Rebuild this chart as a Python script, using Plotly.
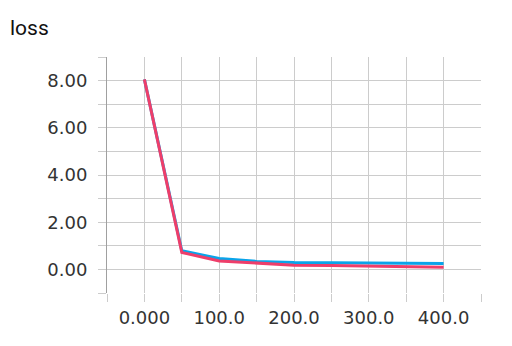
import plotly.graph_objects as go

steps = [0, 50, 100, 150, 200, 250, 300, 350, 400]
loss_blue = [8.05, 0.79, 0.46, 0.34, 0.29, 0.28, 0.26, 0.25, 0.25]
loss_red = [8.05, 0.72, 0.36, 0.26, 0.18, 0.16, 0.13, 0.10, 0.09]

x_ticks = [-50, 0, 50, 100, 150, 200, 250, 300, 350, 400, 450]
x_labels = ["", "0.000", "", "100.0", "", "200.0", "", "300.0", "", "400.0", ""]
y_ticks = [-1, 0, 1, 2, 3, 4, 5, 6, 7, 8, 9]
y_labels = ["", "0.00", "", "2.00", "", "4.00", "", "6.00", "", "8.00", ""]

fig = go.Figure()
fig.add_trace(go.Scatter(x=steps, y=loss_blue, mode="lines",
                         line=dict(color="#0aa4ea", width=3)))
fig.add_trace(go.Scatter(x=steps, y=loss_red, mode="lines",
                         line=dict(color="#ee3e6a", width=3)))

fig.update_layout(
    width=512, height=346,
    margin=dict(l=107, r=31, t=57, b=53),
    paper_bgcolor="white", plot_bgcolor="white",
    showlegend=False,
    font=dict(family="DejaVu Sans", size=18, color="#333333"),
    annotations=[dict(text="loss", xref="paper", yref="paper", x=(8 - 107) / 374, y=1 + 29 / 236,
                      xanchor="left", yanchor="middle", showarrow=False,
                      font=dict(family="Roboto", size=21, color="#111111"))],
)
fig.update_xaxes(range=[-50, 450], tickvals=x_ticks, ticktext=x_labels,
                 showgrid=True, gridcolor="#cccccc", gridwidth=1,
                 ticks="outside", ticklen=8, tickcolor="#cccccc",
                 ticklabelstandoff=0,
                 showline=False, zeroline=False)
fig.update_yaxes(range=[-1, 9], tickvals=y_ticks, ticktext=y_labels,
                 showgrid=True, gridcolor="#cccccc", gridwidth=1,
                 ticks="outside", ticklen=8, tickcolor="#cccccc",
                 ticklabelstandoff=7,
                 showline=True, linecolor="#a0a0a0", linewidth=1,
                 zeroline=False)

fig.write_html("out.html")
